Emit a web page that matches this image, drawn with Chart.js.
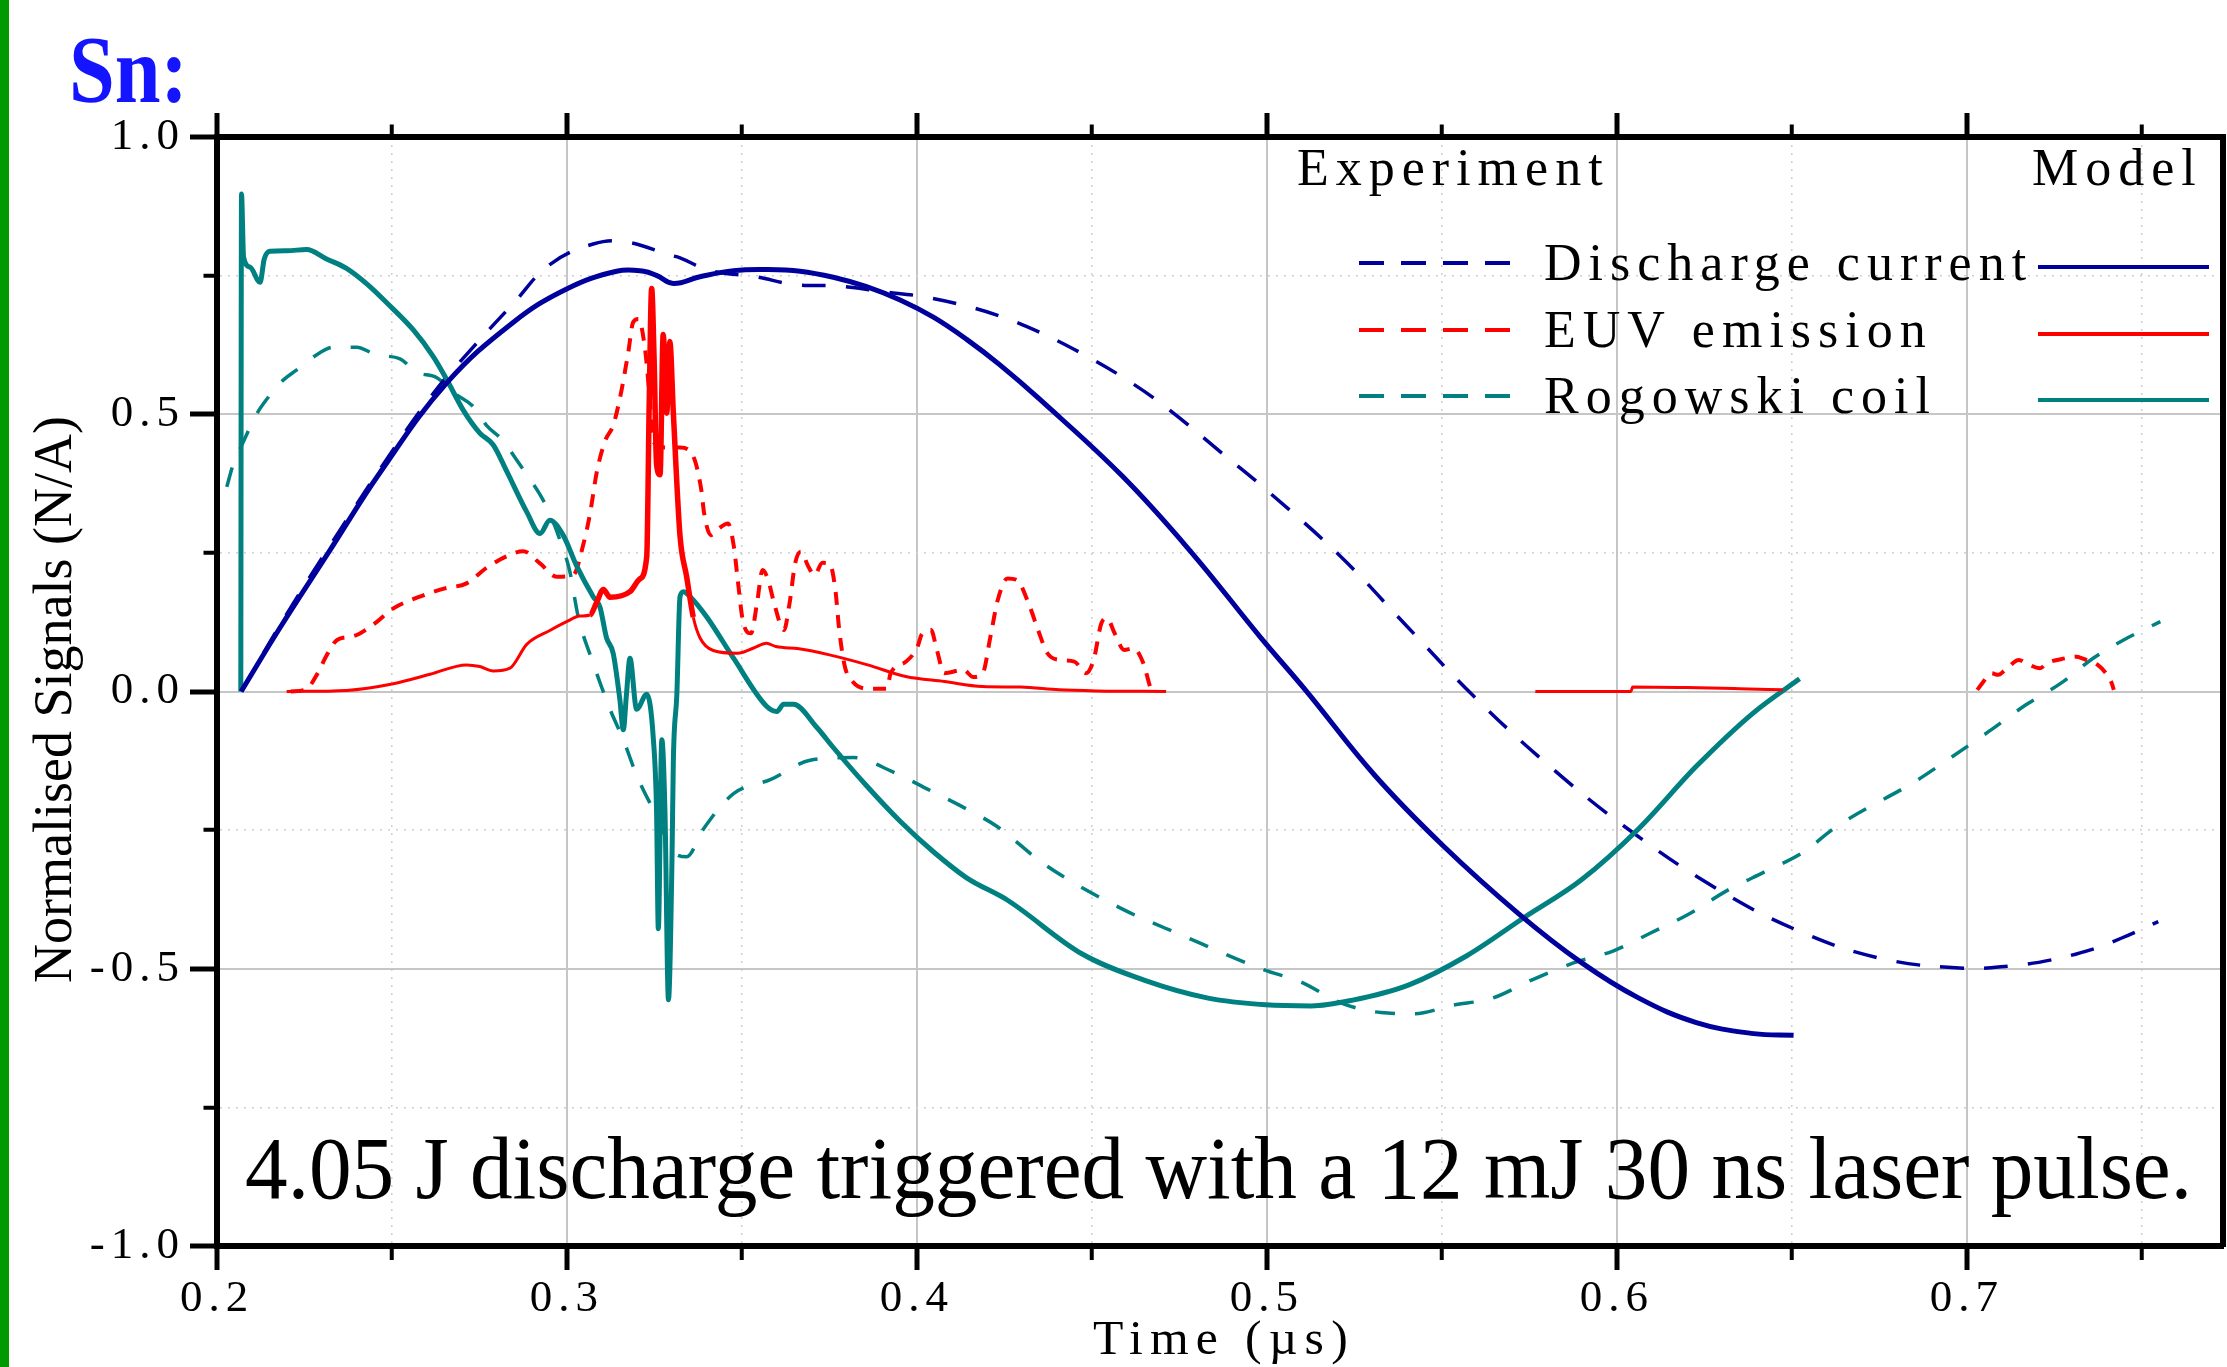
<!DOCTYPE html>
<html>
<head>
<meta charset="utf-8">
<title>Sn: normalised discharge signals</title>
<script src="https://cdn.jsdelivr.net/npm/chart.js@4.4.1/dist/chart.umd.min.js"></script>
<style>
  html, body { margin: 0; padding: 0; background: #fff; }
  #wrap { position: relative; width: 2227px; height: 1367px; }
  canvas { display: block; }
</style>
</head>
<body>
<div id="wrap"><canvas id="signalChart" width="2227" height="1367"></canvas></div>
<script>
// Sn discharge - normalised signals against time (us)
const xTickValues = [0.2, 0.25, 0.3, 0.35, 0.4, 0.45, 0.5, 0.55, 0.6, 0.65, 0.7, 0.75];
const xTickLabels = ['0.2', '', '0.3', '', '0.4', '', '0.5', '', '0.6', '', '0.7', ''];
const yTickValues = [-1, -0.75, -0.5, -0.25, 0, 0.25, 0.5, 0.75, 1];
const yTickLabels = ['-1.0', '', '-0.5', '', '0.0', '', '0.5', '', '1.0'];

const seriesNames = ['Discharge current', 'EUV emission', 'Rogowski coil'];
const seriesColors = ['#00009c', '#ff0000', '#008080'];

// [time, signal] pairs
const currentExperiment = [
  [0.2070, 0.000], [0.2185, 0.125], [0.2325, 0.265], [0.2470, 0.405], [0.2615, 0.535],
  [0.2732, 0.621], [0.2847, 0.700], [0.2951, 0.770], [0.3075, 0.807], [0.3166, 0.811],
  [0.3294, 0.787], [0.3323, 0.782], [0.3409, 0.759], [0.3538, 0.748], [0.3651, 0.734],
  [0.3780, 0.731], [0.3904, 0.721], [0.4018, 0.712], [0.4142, 0.695], [0.4237, 0.677],
  [0.4350, 0.648], [0.4470, 0.610], [0.4590, 0.566], [0.4709, 0.514], [0.4881, 0.425],
  [0.4996, 0.365], [0.5210, 0.244], [0.5398, 0.119], [0.5587, -0.006], [0.5792, -0.126],
  [0.6021, -0.243], [0.6276, -0.352], [0.6513, -0.430], [0.6752, -0.481], [0.6990, -0.499],
  [0.7123, -0.495], [0.7242, -0.484], [0.7368, -0.463], [0.7441, -0.445], [0.7547, -0.415]
];

const currentModel = [
  [0.2069, 0.000], [0.2180, 0.115], [0.2323, 0.255], [0.2466, 0.395], [0.2656, 0.556],
  [0.2847, 0.666], [0.2999, 0.726], [0.3142, 0.758], [0.3219, 0.758], [0.3257, 0.750],
  [0.3304, 0.736], [0.3380, 0.748], [0.3476, 0.759], [0.3571, 0.761], [0.3666, 0.758],
  [0.3761, 0.747], [0.3856, 0.730], [0.3952, 0.706], [0.4047, 0.675], [0.4142, 0.635],
  [0.4237, 0.589], [0.4349, 0.528], [0.4586, 0.389], [0.4783, 0.252], [0.4980, 0.099],
  [0.5111, 0.002], [0.5308, -0.151], [0.5505, -0.279], [0.5718, -0.400], [0.5899, -0.489],
  [0.6063, -0.553], [0.6227, -0.597], [0.6391, -0.617], [0.6505, -0.620]
];

const euvExperiment = [
  [0.2211, 0.000], [0.2255, 0.004], [0.2285, 0.030], [0.2315, 0.067], [0.2343, 0.093],
  [0.2391, 0.100], [0.2447, 0.121], [0.2504, 0.150], [0.2575, 0.170], [0.2651, 0.186],
  [0.2713, 0.195], [0.2770, 0.223], [0.2828, 0.244], [0.2875, 0.253], [0.2923, 0.231],
  [0.2970, 0.207], [0.3018, 0.210], [0.3047, 0.266], [0.3066, 0.321], [0.3085, 0.395],
  [0.3109, 0.452], [0.3132, 0.480], [0.3151, 0.528], [0.3175, 0.611], [0.3189, 0.666],
  [0.3204, 0.672], [0.3223, 0.618], [0.3235, 0.540], [0.3247, 0.450], [0.3285, 0.440],
  [0.3323, 0.440], [0.3360, 0.425], [0.3384, 0.363], [0.3392, 0.321], [0.3411, 0.282],
  [0.3428, 0.291], [0.3460, 0.303], [0.3477, 0.261], [0.3488, 0.201], [0.3504, 0.123],
  [0.3526, 0.105], [0.3543, 0.159], [0.3559, 0.219], [0.3575, 0.201], [0.3592, 0.159],
  [0.3620, 0.111], [0.3636, 0.159], [0.3652, 0.231], [0.3668, 0.252], [0.3690, 0.225],
  [0.3707, 0.210], [0.3730, 0.232], [0.3751, 0.230], [0.3767, 0.183], [0.3778, 0.111],
  [0.3794, 0.045], [0.3816, 0.018], [0.3860, 0.005], [0.3914, 0.005], [0.3925, 0.033],
  [0.3969, 0.054], [0.4002, 0.081], [0.4013, 0.102], [0.4040, 0.111], [0.4057, 0.075],
  [0.4078, 0.033], [0.4133, 0.039], [0.4161, 0.026], [0.4188, 0.033], [0.4210, 0.099],
  [0.4231, 0.165], [0.4259, 0.204], [0.4286, 0.201], [0.4319, 0.159], [0.4346, 0.111],
  [0.4373, 0.069], [0.4406, 0.057], [0.4450, 0.054], [0.4483, 0.033], [0.4505, 0.057],
  [0.4527, 0.123], [0.4543, 0.132], [0.4565, 0.105], [0.4592, 0.075], [0.4619, 0.078],
  [0.4647, 0.051], [0.4669, 0.004], [0.4674, 0.000], [0.5800, null],
  [0.7030, 0.003], [0.7044, 0.015], [0.7070, 0.033], [0.7090, 0.030], [0.7110, 0.039],
  [0.7149, 0.057], [0.7169, 0.051], [0.7209, 0.042], [0.7229, 0.051], [0.7282, 0.060],
  [0.7308, 0.063], [0.7341, 0.057], [0.7374, 0.048], [0.7401, 0.030], [0.7414, 0.015],
  [0.7420, 0.003]
];

const euvModel = [
  [0.2199, 0.000], [0.2370, 0.002], [0.2504, 0.014], [0.2609, 0.031], [0.2713, 0.048],
  [0.2751, 0.045], [0.2789, 0.037], [0.2837, 0.042], [0.2885, 0.085], [0.2951, 0.110],
  [0.2999, 0.126], [0.3037, 0.136], [0.3066, 0.138], [0.3085, 0.161], [0.3104, 0.184],
  [0.3123, 0.170], [0.3180, 0.180], [0.3208, 0.203], [0.3228, 0.244], [0.3235, 0.520],
  [0.3242, 0.727], [0.3249, 0.600], [0.3256, 0.410], [0.3266, 0.391], [0.3275, 0.644],
  [0.3285, 0.502], [0.3294, 0.631], [0.3304, 0.502], [0.3323, 0.281], [0.3342, 0.207],
  [0.3361, 0.134], [0.3380, 0.097], [0.3418, 0.074], [0.3488, 0.069], [0.3532, 0.078],
  [0.3570, 0.087], [0.3597, 0.081], [0.3663, 0.077], [0.3750, 0.066], [0.3859, 0.048],
  [0.3968, 0.027], [0.4078, 0.018], [0.4187, 0.009], [0.4297, 0.008], [0.4406, 0.003],
  [0.4516, 0.001], [0.4712, 0.000], [0.5200, null],
  [0.5767, 0.000], [0.6040, 0.000], [0.6045, 0.008], [0.6200, 0.007], [0.6350, 0.005],
  [0.6474, 0.003]
];

const coilExperiment = [
  [0.2028, 0.369], [0.2047, 0.411], [0.2075, 0.450], [0.2113, 0.500], [0.2142, 0.527],
  [0.2190, 0.562], [0.2228, 0.580], [0.2294, 0.611], [0.2332, 0.621], [0.2399, 0.621],
  [0.2456, 0.607], [0.2523, 0.600], [0.2570, 0.576], [0.2628, 0.566], [0.2685, 0.535],
  [0.2732, 0.514], [0.2770, 0.480], [0.2818, 0.452], [0.2847, 0.426], [0.2894, 0.383],
  [0.2923, 0.355], [0.2951, 0.321], [0.2980, 0.273], [0.3008, 0.217], [0.3032, 0.135],
  [0.3075, 0.051], [0.3123, -0.032], [0.3161, -0.087], [0.3199, -0.151], [0.3256, -0.225],
  [0.3304, -0.289], [0.3342, -0.298], [0.3390, -0.248], [0.3476, -0.184], [0.3581, -0.159],
  [0.3695, -0.124], [0.3819, -0.119], [0.3928, -0.144], [0.4033, -0.177], [0.4142, -0.212],
  [0.4228, -0.243], [0.4365, -0.312], [0.4586, -0.392], [0.4759, -0.440], [0.4988, -0.501],
  [0.5101, -0.525], [0.5209, -0.561], [0.5325, -0.579], [0.5423, -0.581], [0.5529, -0.566],
  [0.5644, -0.553], [0.5754, -0.521], [0.5874, -0.490], [0.5989, -0.468], [0.6095, -0.436],
  [0.6210, -0.400], [0.6312, -0.360], [0.6423, -0.325], [0.6530, -0.291], [0.6629, -0.243],
  [0.6858, -0.160], [0.6957, -0.118], [0.7063, -0.072], [0.7169, -0.024], [0.7269, 0.015],
  [0.7361, 0.060], [0.7448, 0.093], [0.7553, 0.126]
];

const coilModel = [
  [0.2068, 0.000], [0.2070, 0.897], [0.2076, 0.783], [0.2095, 0.765], [0.2123, 0.738],
  [0.2135, 0.780], [0.2151, 0.794], [0.2200, 0.795], [0.2256, 0.797], [0.2313, 0.780],
  [0.2370, 0.763], [0.2428, 0.735], [0.2485, 0.701], [0.2561, 0.652], [0.2618, 0.604],
  [0.2656, 0.563], [0.2704, 0.507], [0.2751, 0.466], [0.2789, 0.445], [0.2828, 0.397],
  [0.2885, 0.324], [0.2923, 0.285], [0.2951, 0.309], [0.2989, 0.282], [0.3028, 0.226],
  [0.3075, 0.171], [0.3094, 0.153], [0.3113, 0.097], [0.3132, 0.069], [0.3151, -0.014],
  [0.3161, -0.069], [0.3170, -0.005], [0.3180, 0.060], [0.3199, -0.032], [0.3228, -0.005],
  [0.3247, -0.087], [0.3256, -0.216], [0.3261, -0.428], [0.3271, -0.087], [0.3280, -0.216],
  [0.3290, -0.556], [0.3300, -0.308], [0.3304, -0.124], [0.3314, -0.005], [0.3323, 0.171],
  [0.3333, 0.180], [0.3352, 0.171], [0.3400, 0.134], [0.3476, 0.060], [0.3571, -0.027],
  [0.3600, -0.036], [0.3619, -0.023], [0.3647, -0.023], [0.3713, -0.064], [0.3761, -0.101],
  [0.3856, -0.170], [0.3952, -0.234], [0.4047, -0.289], [0.4142, -0.336], [0.4258, -0.376],
  [0.4471, -0.473], [0.4651, -0.521], [0.4832, -0.553], [0.4996, -0.565], [0.5127, -0.567],
  [0.5242, -0.557], [0.5406, -0.529], [0.5570, -0.477], [0.5734, -0.408], [0.5898, -0.340],
  [0.6063, -0.247], [0.6227, -0.135], [0.6391, -0.038], [0.6522, 0.023]
];

const SERIF = '"Liberation Serif", "Times New Roman", serif';
const TICK_SPACING = '6px';

function toPoints(rows) {
  return rows.map(function(r) { return { x: r[0], y: r[1] }; });
}

// draws text squeezed/stretched to a given width
function fitText(ctx, text, x, y, width, font, color) {
  ctx.font = font;
  const w = ctx.measureText(text).width;
  ctx.save();
  ctx.translate(x, y);
  ctx.scale(width / w, 1);
  ctx.fillStyle = color;
  ctx.fillText(text, 0, 0);
  ctx.restore();
}

const isMinor = function(c) { return c.index !== undefined && c.index % 2 === 1; };

const decorations = {
  id: 'decorations',
  beforeDraw: function(chart) {
    const ctx = chart.ctx;
    ctx.save();
    ctx.fillStyle = '#ffffff';
    ctx.fillRect(0, 0, chart.width, chart.height);
    ctx.fillStyle = '#009900';
    ctx.fillRect(0, 0, 9, chart.height);
    ctx.restore();
    // tick labels are letter-spaced in the original
    ctx.letterSpacing = TICK_SPACING;
  },
  afterDraw: function(chart) {
    const ctx = chart.ctx;
    ctx.save();
    ctx.letterSpacing = '0px';
    ctx.textAlign = 'left';
    ctx.textBaseline = 'alphabetic';

    fitText(ctx, 'Sn:', 69, 102, 119, 'bold 96px ' + SERIF, '#1414ff');
    fitText(ctx, '4.05 J discharge triggered with a 12 mJ 30 ns laser pulse.', 245, 1198, 1947, '88px ' + SERIF, '#000');

    // y axis title
    ctx.save();
    ctx.translate(71, 700);
    ctx.rotate(-Math.PI / 2);
    fitText(ctx, 'Normalised Signals (N/A)', -283, 0, 567, '54px ' + SERIF, '#000');
    ctx.restore();

    // x axis title
    ctx.letterSpacing = '7px';
    fitText(ctx, 'Time (\u00b5s)', 1093, 1354, 262, '48px ' + SERIF, '#000');

    // legend: Experiment (dashed) | name | Model (solid)
    ctx.letterSpacing = '7px';
    ctx.font = '52px ' + SERIF;
    ctx.fillStyle = '#000';
    ctx.fillText('Experiment', 1297, 185);
    ctx.fillText('Model', 2032, 185);
    const rowY = [280, 347, 413];
    seriesNames.forEach(function(name, i) {
      const y = rowY[i];
      ctx.fillStyle = '#000';
      ctx.fillText(name, 1544, y);
      ctx.save();
      ctx.lineWidth = 4;
      ctx.strokeStyle = chart.data.datasets[i].borderColor;
      ctx.setLineDash([25, 17]);
      ctx.beginPath();
      ctx.moveTo(1359, y - 17);
      ctx.lineTo(1510, y - 17);
      ctx.stroke();
      ctx.setLineDash([]);
      ctx.strokeStyle = chart.data.datasets[i + 3].borderColor;
      ctx.beginPath();
      ctx.moveTo(2038, y - 13);
      ctx.lineTo(2209, y - 13);
      ctx.stroke();
      ctx.restore();
    });
    ctx.restore();
  }
};

function gridFor(tickLength, minorDash) {
  return {
    color: function(c) { return isMinor(c) ? '#d0d0d0' : '#c6c6c6'; },
    lineWidth: function(c) { return isMinor(c) ? 1.5 : 2; },
    tickColor: '#000',
    tickWidth: function(c) { return isMinor(c) ? 4 : 5; },
    tickLength: tickLength,
    tickBorderDash: function(c) { return isMinor(c) ? minorDash : []; }
  };
}

const frameBorder = {
  color: '#000',
  width: 6,
  dash: function(c) { return isMinor(c) ? [2, 6] : []; }
};

const ctx = document.getElementById('signalChart');
new Chart(ctx, {
  type: 'line',
  data: {
    datasets: [
      { label: seriesNames[0] + ' (experiment)', data: toPoints(currentExperiment), borderColor: seriesColors[0], borderWidth: 3.5, borderDash: [24, 20], order: 1, tension: 0.4, cubicInterpolationMode: 'default' },
      { label: seriesNames[1] + ' (experiment)', data: toPoints(euvExperiment), borderColor: seriesColors[1], borderWidth: 4, borderDash: [13, 10], order: 1 },
      { label: seriesNames[2] + ' (experiment)', data: toPoints(coilExperiment), borderColor: seriesColors[2], borderWidth: 3.5, borderDash: [20, 20], order: 1 },
      { label: seriesNames[0] + ' (model)', data: toPoints(currentModel), borderColor: seriesColors[0], borderWidth: 5, order: 0, tension: 0.4, cubicInterpolationMode: 'default' },
      {
        label: seriesNames[1] + ' (model)', data: toPoints(euvModel), borderColor: seriesColors[1], borderWidth: 3, order: 0,
        segment: {
          // the peak region is drawn heavier in the original
          borderWidth: function(c) { return (c.p0.parsed.x > 0.305 && c.p1.parsed.x < 0.338) ? 5.5 : 3; }
        }
      },
      { label: seriesNames[2] + ' (model)', data: toPoints(coilModel), borderColor: seriesColors[2], borderWidth: 5, order: 0 }
    ]
  },
  options: {
    responsive: false,
    animation: false,
    devicePixelRatio: 1,
    events: [],
    layout: { padding: 0 },
    elements: {
      point: { radius: 0 },
      line: { cubicInterpolationMode: 'monotone', fill: false, borderCapStyle: 'butt' }
    },
    spanGaps: false,
    plugins: {
      legend: { display: false },
      tooltip: { enabled: false }
    },
    scales: {
      x: {
        type: 'linear',
        position: 'bottom',
        min: 0.2,
        max: 0.7732,
        afterBuildTicks: function(s) { s.ticks = xTickValues.map(function(v) { return { value: v }; }); },
        afterFit: function(s) { s.height = 121; },
        ticks: {
          autoSkip: false,
          maxRotation: 0,
          padding: 2,
          color: '#000',
          font: { family: SERIF, size: 45 },
          callback: function(v, i) { return xTickLabels[i]; }
        },
        grid: gridFor(24, [11, 100]),
        border: frameBorder
      },
      xTop: {
        type: 'linear',
        position: 'top',
        min: 0.2,
        max: 0.7732,
        afterBuildTicks: function(s) { s.ticks = xTickValues.map(function(v) { return { value: v }; }); },
        afterFit: function(s) { s.height = 137; },
        ticks: { display: false },
        grid: Object.assign(gridFor(24, [0, 11.5, 10, 100]), { drawOnChartArea: false }),
        border: { color: '#000', width: 6 }
      },
      y: {
        type: 'linear',
        position: 'left',
        min: -1,
        max: 1,
        afterBuildTicks: function(s) { s.ticks = yTickValues.map(function(v) { return { value: v }; }); },
        afterFit: function(s) { s.width = 217; },
        ticks: {
          autoSkip: false,
          padding: 5,
          color: '#000',
          font: { family: SERIF, size: 45 },
          callback: function(v, i) { return yTickLabels[i]; }
        },
        grid: gridFor(27, [0, 13.5, 11, 100]),
        border: frameBorder
      },
      yRight: {
        type: 'linear',
        position: 'right',
        min: -1,
        max: 1,
        afterFit: function(s) { s.width = 4; },
        ticks: { display: false },
        grid: { drawOnChartArea: false, drawTicks: false },
        border: { color: '#000', width: 6 }
      }
    }
  },
  plugins: [decorations]
});
</script>
</body>
</html>
